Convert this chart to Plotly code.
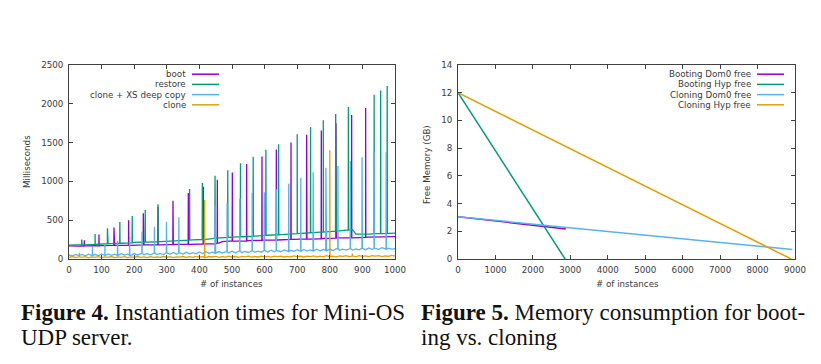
import plotly.graph_objects as go

W, H = 821, 364

# ---------------- Figure 4 data (milliseconds) ----------------
BASE_X = list(range(0, 1001, 10))

boot_base = [168,166,169,167,170,168,171,169,172,170,
             173,171,174,172,175,176,174,177,178,176,
             179,180,178,181,182,180,183,184,182,185,
             186,184,187,188,186,189,190,188,191,192,
             190,193,194,192,195,196,205,225,228,230,
             232,231,234,235,233,237,238,236,240,241,
             243,242,246,247,245,249,250,248,252,253,
             255,254,258,259,257,261,262,260,264,265,
             267,266,270,271,269,273,274,272,276,278,
             280,279,283,284,282,286,288,286,290,291,289]
restore_base = [178,180,179,182,184,183,186,188,187,190,
                195,194,197,199,198,201,203,202,205,207,
                215,214,217,219,218,221,223,222,225,227,
                236,235,238,240,239,242,244,243,246,248,
                252,251,254,256,262,270,272,274,276,278,
                282,283,285,287,289,291,293,296,298,300,
                304,306,308,311,313,315,318,320,323,325,
                328,330,333,335,338,340,343,345,348,350,
                353,355,358,362,366,370,374,378,320,318,
                321,322,320,324,326,325,328,330,329,332,334]
clonexs_base = [52,38,60,45,58,40,62,44,60,42,
                64,45,66,48,62,46,68,50,66,48,
                70,52,72,55,68,54,75,56,72,58,
                80,60,84,62,78,64,86,66,82,68,
                90,70,94,72,88,74,96,76,92,78,
                100,80,104,82,98,84,106,86,102,88,
                110,90,114,92,108,94,116,96,112,98,
                120,100,124,102,118,104,126,106,122,108,
                128,110,132,112,126,114,134,116,130,118,
                138,120,142,122,136,124,146,126,140,128,135]
clone_base = [20,32,18,28,22,30,16,26,20,30,
              18,28,22,32,18,26,20,30,18,28,
              22,32,20,28,18,30,22,26,20,32,
              22,30,18,28,24,32,20,30,22,34,
              24,30,20,32,26,34,22,30,24,36,
              26,32,22,34,28,36,24,32,26,38,
              28,34,24,36,30,38,26,34,28,40,
              30,36,26,38,32,40,28,36,30,42,
              32,38,28,40,34,42,30,38,32,44,
              34,40,30,42,36,44,32,40,34,46,38]

boot_spike_x = [47, 92, 138, 183, 228, 273, 319, 366, 412, 455, 501, 545,
                592, 636, 681, 729, 774, 819, 867, 910]
boot_spike_y = [240, 315, 405, 500, 590, 670, 750, 850, 930, 1020, 1115, 1225,
                1320, 1410, 1500, 1600, 1655, 1750, 1855, 1945]

restore_spike_x = [39, 80, 118, 156, 194, 234, 273, 370, 409, 448, 487, 526,
                   565, 604, 643, 700, 741, 780, 818, 857, 936, 956, 976]
restore_spike_y = [250, 322, 395, 477, 554, 632, 705, 902, 980, 1074, 1143, 1233,
                   1319, 1409, 1478, 1607, 1701, 1787, 1869, 1959, 2118, 2170, 2230]

clonexs_spike_x = [72, 110, 149, 186, 224, 262, 299, 337, 448, 485, 524, 562,
                   599, 636, 674, 711, 749, 788, 825, 863, 899, 936, 973]
clonexs_spike_y = [155, 190, 235, 290, 355, 417, 480, 537, 690, 720, 780, 855,
                   860, 900, 970, 1048, 1117, 1177, 1200, 1263, 1310, 1375, 1375]

clone_spike_x = [32, 416, 800, 869]
clone_spike_y = [80, 760, 1400, 70]

# ---------------- Figure 5 data (GB) ----------------
boot_dom0_x = [0, 2880]
boot_dom0_y = [3.05, 2.17]
boot_hyp_x = [0, 2860]
boot_hyp_y = [12.0, 0.0]
clone_dom0_x = [0, 8930]
clone_dom0_y = [3.05, 0.68]
clone_hyp_x = [0, 8900]
clone_hyp_y = [12.0, 0.0]

PURPLE = "#9400d3"
GREEN = "#009e73"
BLUE = "#56b4e9"
ORANGE = "#e69f00"

names1 = ["boot", "restore", "clone + XS deep copy", "clone"]
names2 = ["Booting Dom0 free", "Booting Hyp free", "Cloning Dom0 free", "Cloning Hyp free"]
colors = [PURPLE, GREEN, BLUE, ORANGE]


def merge(base, sx, sy):
    pts = list(zip(BASE_X, base))
    for x, p in zip(sx, sy):
        b = base[int(round(x / 10))]
        pts += [(x - 0.5, b), (x, p), (x + 0.5, b)]
    pts.sort(key=lambda t: t[0])
    return [t[0] for t in pts], [t[1] for t in pts]


fig = go.Figure()
series1 = [(boot_base, boot_spike_x, boot_spike_y),
           (restore_base, restore_spike_x, restore_spike_y),
           (clonexs_base, clonexs_spike_x, clonexs_spike_y),
           (clone_base, clone_spike_x, clone_spike_y)]
for (b, sx, sy), c, n in zip(series1, colors, names1):
    xs, ys = merge(b, sx, sy)
    fig.add_trace(go.Scatter(x=xs, y=ys, mode="lines", name=n,
                             line=dict(color=c, width=1.3),
                             xaxis="x", yaxis="y", showlegend=False))

series2 = [(boot_dom0_x, boot_dom0_y), (boot_hyp_x, boot_hyp_y),
           (clone_dom0_x, clone_dom0_y), (clone_hyp_x, clone_hyp_y)]
for (x, y), c, n in zip(series2, colors, names2):
    fig.add_trace(go.Scatter(x=x, y=y, mode="lines", name=n,
                             line=dict(color=c, width=1.5),
                             xaxis="x2", yaxis="y2", showlegend=False))

TICKFONT = dict(family="DejaVu Sans", size=8.7, color="#3a3a3a")
ax_common = dict(showline=True, linecolor="#404040", linewidth=1, mirror="ticks",
                 ticks="inside", ticklen=4, tickcolor="#404040", tickwidth=1,
                 showgrid=False, zeroline=False, tickfont=TICKFONT, fixedrange=True,
                 ticklabelstandoff=3)

ydom = [1 - 259 / H, 1 - 65 / H]
fig.update_layout(
    width=W, height=H, margin=dict(l=0, r=0, t=0, b=0, autoexpand=False),
    paper_bgcolor="white", plot_bgcolor="white", showlegend=False,
    xaxis=dict(domain=[69 / W, 395 / W], range=[0, 1000], dtick=100, tick0=0,
               anchor="y", **ax_common),
    yaxis=dict(domain=ydom, range=[0, 2500], dtick=500, tick0=0, anchor="x", **ax_common),
    xaxis2=dict(domain=[458 / W, 795 / W], range=[0, 9000], dtick=1000, tick0=0,
                anchor="y2", **ax_common),
    yaxis2=dict(domain=ydom, range=[0, 14], dtick=2, tick0=0, anchor="x2", **ax_common),
)

ann = []
shapes = []
LABFONT = dict(family="DejaVu Sans", size=8.7, color="#3a3a3a")
# axis titles
ann.append(dict(text="Milliseconds", x=27 / W, y=1 - 162 / H, xref="paper", yref="paper",
                textangle=-90, showarrow=False, font=LABFONT, xanchor="center", yanchor="middle"))
ann.append(dict(text="Free Memory (GB)", x=427 / W, y=1 - 164 / H, xref="paper", yref="paper",
                textangle=-90, showarrow=False, font=LABFONT, xanchor="center", yanchor="middle"))
ann.append(dict(text="# of instances", x=232 / W, y=1 - 284 / H, xref="paper", yref="paper",
                showarrow=False, font=LABFONT, xanchor="center", yanchor="middle"))
ann.append(dict(text="# of instances", x=627 / W, y=1 - 284 / H, xref="paper", yref="paper",
                showarrow=False, font=LABFONT, xanchor="center", yanchor="middle"))

# legends (gnuplot style: text right-aligned, sample to the right)
rows = [74.2, 84.4, 94.6, 104.8]
for names, tx, lx0, lx1 in [(names1, 187, 192, 219), (names2, 752, 757, 784)]:
    for n, c, ry in zip(names, colors, rows):
        ann.append(dict(text=n, x=tx / W, y=1 - ry / H, xref="paper", yref="paper",
                        showarrow=False, font=LABFONT, xanchor="right", yanchor="middle",
                        borderpad=0))
        shapes.append(dict(type="line", xref="paper", yref="paper",
                           x0=lx0 / W, x1=lx1 / W, y0=1 - ry / H, y1=1 - ry / H,
                           line=dict(color=c, width=1.5)))

# captions
CAPFONT = dict(family="Liberation Serif", size=23, color="#111111")
captions = [
    ("<b>Figure 4.</b> Instantiation times for Mini-OS", 20, 312),
    ("UDP server.", 20, 337),
    ("<b>Figure 5.</b> Memory consumption for boot-", 420, 312),
    ("ing vs. cloning", 420, 337),
]
for t, x, y in captions:
    ann.append(dict(text=t, x=x / W, y=1 - y / H, xref="paper", yref="paper",
                    showarrow=False, font=CAPFONT, xanchor="left", yanchor="middle",
                    borderpad=0))

fig.update_layout(annotations=ann, shapes=shapes)
fig.write_html("out.html")
